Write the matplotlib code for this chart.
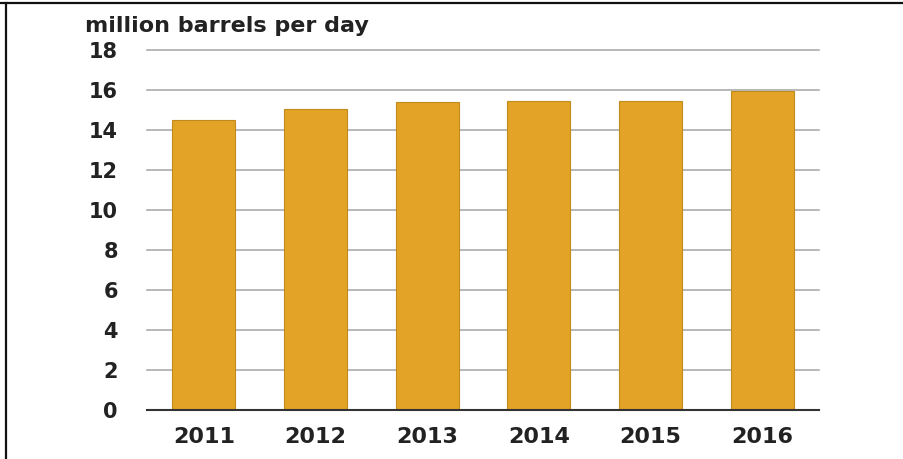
import matplotlib
matplotlib.use("Agg")
import matplotlib.pyplot as plt
from matplotlib.lines import Line2D

years = ["2011", "2012", "2013", "2014", "2015", "2016"]
values = [14.5, 15.05, 15.4, 15.45, 15.45, 15.95]
yticks = [0, 2, 4, 6, 8, 10, 12, 14, 16, 18]
unit_label = "million barrels per day"

W, H = 904, 459
fig = plt.figure(figsize=(W / 100, H / 100), dpi=100)
fig.patch.set_facecolor("white")

ax = fig.add_axes([147 / W, 1 - 410 / H, 672 / W, 360 / H])
x = list(range(len(years)))
ax.bar(x, values, width=0.565, color="#E3A326", edgecolor="#C08A1C",
       linewidth=0.8, zorder=3)

ax.set_xlim(-0.51, len(years) - 0.49)
ax.set_ylim(0, 18)
ax.set_yticks(yticks)
ax.set_yticklabels([str(t) for t in yticks])
ax.set_xticks(x)
ax.set_xticklabels(years)

for t in yticks[1:]:
    ax.axhline(t, color="#ABABAB", linewidth=1.2, zorder=1, clip_on=False)

for s in ["top", "right", "left"]:
    ax.spines[s].set_visible(False)
ax.spines["bottom"].set_color("#333333")
ax.spines["bottom"].set_linewidth(1.5)
ax.spines["bottom"].set_zorder(4)

ax.tick_params(axis="both", length=0, colors="#222222")
ax.tick_params(axis="y", pad=21)
ax.tick_params(axis="x", pad=12)
for lab in ax.get_yticklabels() + ax.get_xticklabels():
    lab.set_fontfamily("DejaVu Sans")
    lab.set_fontweight("bold")
for lab in ax.get_yticklabels():
    lab.set_fontsize(15)
for lab in ax.get_xticklabels():
    lab.set_fontsize(16)

fig.text(85 / W, 1 - 31.5 / H, unit_label, fontsize=16, fontweight="bold",
         family="DejaVu Sans", color="#222222", ha="left", va="baseline")

# outer frame lines (top and left) as in the reference screenshot
fig.add_artist(Line2D([0, 1], [1 - 2.8 / H, 1 - 2.8 / H], transform=fig.transFigure,
                      color="#111111", linewidth=1.6))
fig.add_artist(Line2D([6 / W, 6 / W], [0, 1 - 2.8 / H], transform=fig.transFigure,
                      color="#111111", linewidth=1.6))

fig.savefig("out.png", dpi=100, facecolor="white")
